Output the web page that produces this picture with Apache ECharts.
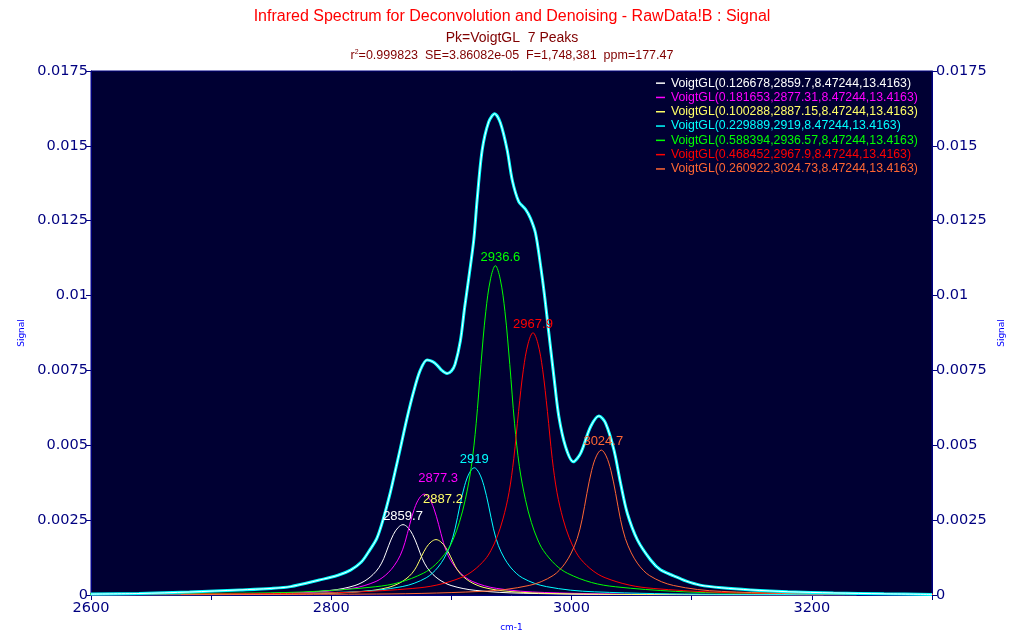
<!DOCTYPE html>
<html>
<head>
<meta charset="utf-8">
<script src="https://cdn.jsdelivr.net/npm/echarts@6/dist/echarts.min.js"></script>
<style>
html,body{margin:0;padding:0;background:#ffffff;}
#chart{width:1024px;height:640px;}
</style>
</head>
<body>
<div id="chart"></div>
<script>
// ---------- DATA ----------
const signalX = [2600,2640,2682,2724,2750,2766,2790,2805,2816,2825,2832,2838,2843,2849,2853,2857.5,2863,2868.6,2874,2879.7,2884,2888,2892,2896.4,2900,2903,2907.5,2911,2914.4,2918.6,2921.4,2925.6,2931,2936,2940.8,2946.4,2950.6,2956,2961.7,2965.8,2970,2974.2,2977.5,2981.1,2985.3,2989.4,2995,3001.4,3007.5,3015.8,3022.8,3028.3,3035.3,3040.8,3046.4,3054.8,3065.8,3074,3085,3095,3107,3125,3149,3180,3218,3260,3300];
const signalY = [0.00003,0.00005,0.0001,0.00017,0.00022,0.00028,0.0005,0.00065,0.00083,0.0011,0.0015,0.0019,0.0025,0.0034,0.0041,0.0049,0.0059,0.0068,0.0075,0.00785,0.0078,0.00768,0.0075,0.0074,0.00748,0.0077,0.0085,0.0096,0.01058,0.01186,0.0132,0.01486,0.0158,0.01607,0.01576,0.01486,0.01386,0.01314,0.01288,0.01258,0.01208,0.0110,0.0100,0.00874,0.00729,0.00596,0.00495,0.00445,0.00473,0.00562,0.00598,0.00574,0.00484,0.00373,0.00273,0.00184,0.00117,0.00084,0.00064,0.00047,0.00033,0.00024,0.00017,0.00011,0.00007,0.00004,0.00002];

const peakCenters = [2859.7, 2877.31, 2887.15, 2919, 2936.57, 2967.9, 3024.73];
const peakLabels = ['2859.7','2877.3','2887.2','2919','2936.6','2967.9','3024.7'];
const peakNames = [
  'VoigtGL(0.126678,2859.7,8.47244,13.4163)',
  'VoigtGL(0.181653,2877.31,8.47244,13.4163)',
  'VoigtGL(0.100288,2887.15,8.47244,13.4163)',
  'VoigtGL(0.229889,2919,8.47244,13.4163)',
  'VoigtGL(0.588394,2936.57,8.47244,13.4163)',
  'VoigtGL(0.468452,2967.9,8.47244,13.4163)',
  'VoigtGL(0.260922,3024.73,8.47244,13.4163)'
];
// sample positions relative to each peak centre (cm-1)
const peakOffsets = [-350,-200,-150,-100,-80,-60,-50,-40,-35,-30,-25,-20,-16,-12,-8,-4,0,4,8,12,16,20,25,30,35,40,50,60,80,100,150,200,350];
const peak1 = [0.000007,0.000014,0.000026,0.000059,0.000089,0.000155,0.000216,0.000317,0.0004,0.000517,0.000682,0.000917,0.00122,0.001645,0.00202,0.002256,0.00235,0.002256,0.00202,0.001645,0.00122,0.000917,0.000682,0.000517,0.0004,0.000317,0.000216,0.000155,0.000089,0.000059,0.000026,0.000014,0.000007];
const peak2 = [0.00001,0.00002,0.000037,0.000084,0.000128,0.000222,0.00031,0.000455,0.000573,0.000741,0.000977,0.001314,0.001752,0.002359,0.002898,0.003235,0.00337,0.003235,0.002898,0.002359,0.001752,0.001314,0.000977,0.000741,0.000573,0.000455,0.00031,0.000222,0.000128,0.000084,0.000037,0.00002,0.00001];
const peak3 = [0.0000056,0.000011,0.00002,0.000046,0.00007,0.000122,0.00017,0.00025,0.000315,0.000407,0.000537,0.000722,0.000962,0.001295,0.001591,0.001776,0.00185,0.001776,0.001591,0.001295,0.000962,0.000722,0.000537,0.000407,0.000315,0.00025,0.00017,0.000122,0.00007,0.000046,0.00002,0.000011,0.0000056];
const peak4 = [0.000013,0.000026,0.000047,0.000106,0.000162,0.000281,0.000391,0.000574,0.000723,0.000935,0.001233,0.001658,0.00221,0.002975,0.003655,0.00408,0.00425,0.00408,0.003655,0.002975,0.00221,0.001658,0.001233,0.000935,0.000723,0.000574,0.000391,0.000281,0.000162,0.000106,0.000047,0.000026,0.000013];
const peak5 = [0.000033,0.000066,0.000121,0.000275,0.000418,0.000726,0.001012,0.001485,0.00187,0.00242,0.00319,0.00429,0.00572,0.0077,0.00946,0.01056,0.0110,0.01056,0.00946,0.0077,0.00572,0.00429,0.00319,0.00242,0.00187,0.001485,0.001012,0.000726,0.000418,0.000275,0.000121,0.000066,0.000033];
const peak6 = [0.000026,0.000053,0.000096,0.000219,0.000333,0.000578,0.000806,0.001183,0.001489,0.001927,0.00254,0.003416,0.004555,0.006132,0.007534,0.00841,0.00876,0.00841,0.007534,0.006132,0.004555,0.003416,0.00254,0.001927,0.001489,0.001183,0.000806,0.000578,0.000333,0.000219,0.000096,0.000053,0.000026];
const peak7 = [0.000015,0.000029,0.000053,0.000121,0.000184,0.000319,0.000445,0.000653,0.000823,0.001065,0.001404,0.001888,0.002517,0.003388,0.004162,0.004646,0.00484,0.004646,0.004162,0.003388,0.002517,0.001888,0.001404,0.001065,0.000823,0.000653,0.000445,0.000319,0.000184,0.000121,0.000053,0.000029,0.000015];
const peakValues = [peak1, peak2, peak3, peak4, peak5, peak6, peak7];

const yTicks = [0, 0.0025, 0.005, 0.0075, 0.01, 0.0125, 0.015, 0.0175];
const xTickLabels = ['2600', '2800', '3000', '3200'];

// ---------- STYLE ----------
const peakColors = ['#ffffff', '#ff00ff', '#ffff66', '#00ffff', '#00ff00', '#ff0000', '#ff6633'];
const labelOffsets = [[0,0],[14,-7],[7,-32],[0,0],[5,0],[0,0],[2,0]];
const navy = '#000080';

// ---------- BUILD ----------
const chart = echarts.init(document.getElementById('chart'), null, {renderer: 'canvas'});

const series = [];
peakValues.forEach((vals, i) => {
  const pts = peakOffsets.map((o, k) => [peakCenters[i] + o, vals[k]]);
  let apex = 0;
  vals.forEach((v, k) => { if (v > vals[apex]) apex = k; });
  series.push({
    name: peakNames[i],
    type: 'line',
    smooth: 0.35,
    showSymbol: false,
    yAxisIndex: 0,
    data: pts,
    color: peakColors[i],
    lineStyle: {color: peakColors[i], width: 1},
    itemStyle: {color: peakColors[i]},
    z: 2,
    markPoint: {
      symbol: 'circle',
      symbolSize: 0,
      silent: true,
      data: [{coord: pts[apex], value: peakLabels[i]}],
      label: {
        show: true,
        position: 'top',
        distance: 2,
        offset: labelOffsets[i],
        formatter: '{c}',
        color: peakColors[i],
        fontFamily: 'Liberation Sans',
        fontSize: 13
      }
    }
  });
});

const signalPts = signalX.map((x, k) => [x, signalY[k]]);
series.push({
  name: 'data',
  type: 'line',
  smooth: 0.3,
  showSymbol: false,
  data: signalPts,
  lineStyle: {color: '#00ffff', width: 3},
  itemStyle: {color: '#00ffff'},
  z: 3
});
series.push({
  name: 'fit',
  type: 'line',
  smooth: 0.3,
  showSymbol: false,
  data: signalPts,
  lineStyle: {color: '#ffffff', width: 1},
  itemStyle: {color: '#ffffff'},
  z: 4
});

const yFmt = v => {
  const r = parseFloat(v.toFixed(5));
  return yTicks.includes(r) ? String(r) : '';
};

const yAxisCommon = {
  type: 'value',
  min: 0,
  max: 0.0175,
  interval: 0.0025,
  name: 'Signal',
  nameLocation: 'middle',
  nameRotate: 90,
  nameTextStyle: {color: '#0000ff', fontSize: 9, fontFamily: 'DejaVu Sans'},
  splitLine: {show: false},
  axisLine: {show: true, lineStyle: {color: navy, width: 1}},
  axisTick: {show: true, length: 5, lineStyle: {color: navy}},
  axisLabel: {color: navy, fontSize: 14.5, fontFamily: 'DejaVu Sans', formatter: yFmt, margin: 3}
};

const option = {
  animation: false,
  backgroundColor: '#ffffff',
  title: [
    {text: 'Infrared Spectrum for Deconvolution and Denoising - RawData!B : Signal', left: 'center', top: 9, padding: 0,
     textStyle: {color: '#ff0000', fontSize: 16, fontWeight: 'normal', fontFamily: 'Liberation Sans'}},
    {text: 'Pk=VoigtGL  7 Peaks', left: 'center', top: 31, padding: 0,
     textStyle: {color: '#800000', fontSize: 14, fontWeight: 'normal', fontFamily: 'Liberation Sans'}},
    {text: 'r{sup|2}=0.999823  SE=3.86082e-05  F=1,748,381  ppm=177.47', left: 'center', top: 49, padding: 0,
     textStyle: {color: '#800000', fontSize: 12.5, fontWeight: 'normal', fontFamily: 'Liberation Sans',
       rich: {sup: {fontSize: 7, verticalAlign: 'top', color: '#800000', padding: [0,0,5,0], fontFamily: 'Liberation Sans'}}}}
  ],
  legend: {
    data: peakNames,
    orient: 'vertical',
    left: 656,
    top: 76,
    padding: 0,
    itemGap: 0,
    itemWidth: 9,
    itemHeight: 1.5,
    icon: 'rect',
    selectedMode: false,
    textStyle: {color: 'inherit', fontSize: 12.3, fontFamily: 'Liberation Sans', lineHeight: 14.3, padding: [0,0,0,1]}
  },
  grid: {
    left: 91, right: 92, top: 71, bottom: 45,
    show: true, backgroundColor: '#000033', borderColor: navy, borderWidth: 1
  },
  xAxis: {
    type: 'value',
    min: 2600,
    max: 3300,
    interval: 100,
    name: 'cm-1',
    nameLocation: 'middle',
    nameGap: 28,
    nameTextStyle: {color: '#0000ff', fontSize: 9, fontFamily: 'DejaVu Sans'},
    splitLine: {show: false},
    axisLine: {show: true, onZero: false, lineStyle: {color: navy}},
    axisTick: {show: true, length: 5, lineStyle: {color: navy}},
    axisLabel: {
      color: navy, fontSize: 14.5, fontFamily: 'DejaVu Sans', margin: 6,
      formatter: v => (xTickLabels.includes(String(Math.round(v))) ? String(Math.round(v)) : '')
    }
  },
  yAxis: [
    Object.assign({}, yAxisCommon, {position: 'left', nameGap: 57}),
    Object.assign({}, yAxisCommon, {position: 'right', nameGap: 64, axisLabel: Object.assign({}, yAxisCommon.axisLabel, {margin: 4})})
  ],
  series: series
};

chart.setOption(option);
</script>
</body>
</html>
